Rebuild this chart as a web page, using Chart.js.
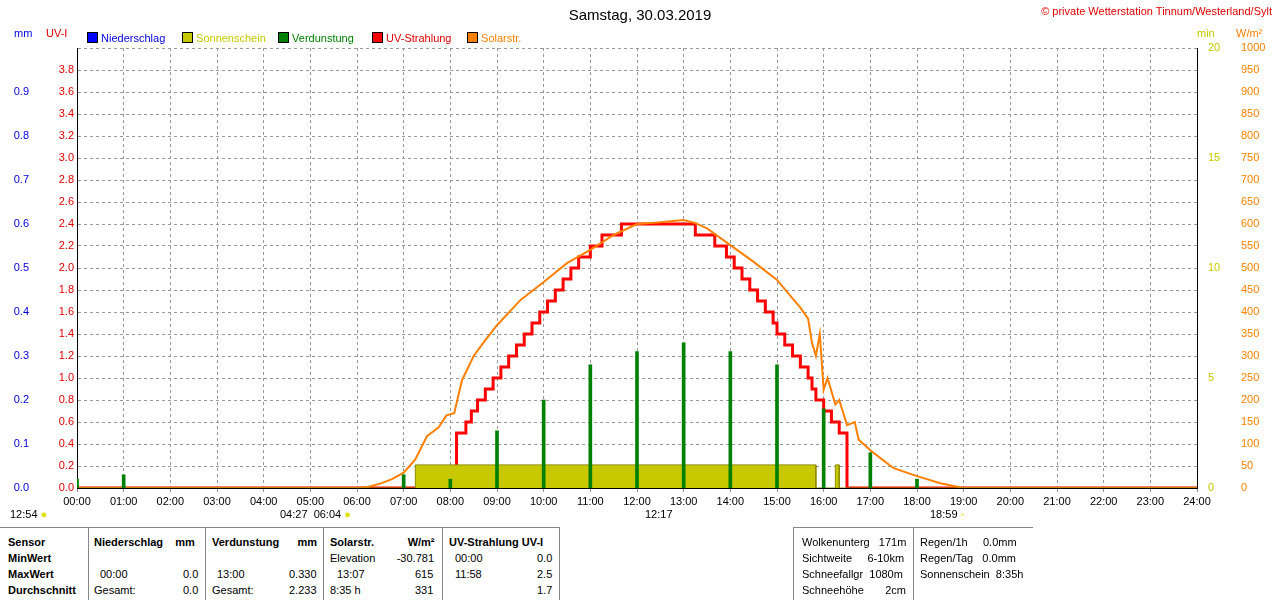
<!DOCTYPE html>
<html><head><meta charset="utf-8">
<script src="https://cdn.jsdelivr.net/npm/chart.js@4"></script>
<style>
body{margin:0;background:#fff;font-family:"Liberation Sans",Arial,sans-serif;font-size:11px;width:1280px;height:600px;position:relative;overflow:hidden}
#c{position:absolute;left:0;top:0}
.t{position:absolute;white-space:nowrap}
.tb{position:absolute;white-space:nowrap;font-size:11px}
.b{font-weight:bold}
.vl{position:absolute;width:1px;background:#888;top:527px;height:73px}
</style></head><body>
<canvas id="c" width="1280" height="515"></canvas>
<div class="t" style="left:0;width:1280px;text-align:center;top:6px;font-size:15px">Samstag, 30.03.2019</div>
<div class="t" style="right:8px;top:5px;color:#e00000">© private Wetterstation Tinnum/Westerland/Sylt</div>
<div class="t" style="left:14px;top:27px;color:#0000e0">mm</div>
<div class="t" style="left:46px;top:27px;color:#e00000">UV-I</div>
<div class="t" style="left:1197px;top:27px;color:#c8c800">min</div>
<div class="t" style="left:1236px;top:27px;color:#ff8000">W/m²</div>
<div class="t" style="left:87px;top:32px"><span style="display:inline-block;width:9px;height:9px;background:#0000ff;border:1px solid #000;vertical-align:-1px"></span> <span style="color:#0000e0">Niederschlag</span></div>
<div class="t" style="left:182px;top:32px"><span style="display:inline-block;width:9px;height:9px;background:#c8c800;border:1px solid #000;vertical-align:-1px"></span> <span style="color:#c8c800">Sonnenschein</span></div>
<div class="t" style="left:278px;top:32px"><span style="display:inline-block;width:9px;height:9px;background:#008000;border:1px solid #000;vertical-align:-1px"></span> <span style="color:#008000">Verdunstung</span></div>
<div class="t" style="left:372px;top:32px"><span style="display:inline-block;width:9px;height:9px;background:#ff0000;border:1px solid #000;vertical-align:-1px"></span> <span style="color:#e00000">UV-Strahlung</span></div>
<div class="t" style="left:467px;top:32px"><span style="display:inline-block;width:9px;height:9px;background:#ff8000;border:1px solid #000;vertical-align:-1px"></span> <span style="color:#ff8000">Solarstr.</span></div>
<div class="t" style="left:10px;top:508px">12:54 <span style="color:#e0e000">●</span></div>
<div class="t" style="left:280px;top:508px">04:27 &nbsp;06:04 <span style="color:#e0e000">●</span></div>
<div class="t" style="left:645px;top:508px">12:17</div>
<div class="t" style="left:930px;top:508px">18:59 <span style="color:#e0e000">◦</span></div>
<div class="vl" style="left:88px"></div><div class="vl" style="left:205px"></div><div class="vl" style="left:323px"></div><div class="vl" style="left:442px"></div><div class="vl" style="left:559px"></div><div class="vl" style="left:913px"></div>
<div style="position:absolute;left:0;top:527px;width:560px;height:1px;background:#888"></div>
<div class="tb b" style="left:8px;top:536px">Sensor</div>
<div class="tb b" style="left:8px;top:552px">MinWert</div>
<div class="tb b" style="left:8px;top:568px">MaxWert</div>
<div class="tb b" style="left:8px;top:584px">Durchschnitt</div>
<div class="tb b" style="left:94px;top:536px">Niederschlag &nbsp;&nbsp;&nbsp;mm</div>
<div class="tb" style="left:100px;top:568px">00:00</div><div class="tb" style="left:183px;top:568px">0.0</div>
<div class="tb" style="left:94px;top:584px">Gesamt:</div><div class="tb" style="left:183px;top:584px">0.0</div>
<div class="tb b" style="left:212px;top:536px">Verdunstung &nbsp;&nbsp;&nbsp;&nbsp;&nbsp;mm</div>
<div class="tb" style="left:217px;top:568px">13:00</div><div class="tb" style="left:289px;top:568px">0.330</div>
<div class="tb" style="left:212px;top:584px">Gesamt:</div><div class="tb" style="left:289px;top:584px">2.233</div>
<div class="tb b" style="left:330px;top:536px">Solarstr. &nbsp;&nbsp;&nbsp;&nbsp;&nbsp;&nbsp;&nbsp;&nbsp;&nbsp;&nbsp;W/m²</div>
<div class="tb" style="left:330px;top:552px;width:45px;text-align:right">Elevation</div><div class="tb" style="left:390px;top:552px;width:44px;text-align:right">-30.781</div>
<div class="tb" style="left:337px;top:568px">13:07</div><div class="tb" style="left:415px;top:568px">615</div>
<div class="tb" style="left:330px;top:584px">8:35 h</div><div class="tb" style="left:415px;top:584px">331</div>
<div class="tb b" style="left:449px;top:536px">UV-Strahlung UV-I</div>
<div class="tb" style="left:455px;top:552px">00:00</div><div class="tb" style="left:537px;top:552px">0.0</div>
<div class="tb" style="left:455px;top:568px">11:58</div><div class="tb" style="left:537px;top:568px">2.5</div>
<div class="tb" style="left:537px;top:584px">1.7</div>
<div style="position:absolute;left:793px;top:527px;width:240px;height:1px;background:#888"></div>
<div class="vl" style="left:793px"></div>
<div class="tb" style="left:802px;top:536px">Wolkenunterg &nbsp;&nbsp;171m</div>
<div class="tb" style="left:802px;top:552px">Sichtweite &nbsp;&nbsp;&nbsp;&nbsp;6-10km</div>
<div class="tb" style="left:802px;top:568px">Schneefallgr &nbsp;1080m</div>
<div class="tb" style="left:802px;top:584px">Schneehöhe &nbsp;&nbsp;&nbsp;&nbsp;&nbsp;&nbsp;2cm</div>
<div class="tb" style="left:920px;top:536px">Regen/1h &nbsp;&nbsp;&nbsp;&nbsp;0.0mm</div>
<div class="tb" style="left:920px;top:552px">Regen/Tag &nbsp;&nbsp;0.0mm</div>
<div class="tb" style="left:920px;top:568px">Sonnenschein &nbsp;8:35h</div>
<script>
const solarTimes=["00:00","06:00","06:15","06:30","06:45","07:00","07:15","07:30","07:45","07:55","08:05","08:15","08:30","08:45","09:00","09:30","10:00","10:30","11:00","11:30","12:00","12:30","13:00","13:15","13:30","14:00","14:30","15:00","15:30","15:40","15:45","15:50","15:55","16:00","16:05","16:15","16:20","16:30","16:40","16:45","17:00","17:15","17:30","18:00","18:30","19:00","24:00"];
const solarValues=[0,0,3,10,20,35,65,118,138,165,170,245,300,336,370,427,468,511,541,575,600,604,609,602,590,552,514,473,410,385,330,300,350,223,250,190,200,143,150,110,86,65,45,27,11,0,0];
const uvTimes=["00:00","08:08","08:20","08:27","08:35","08:45","08:55","09:05","09:15","09:25","09:35","09:45","09:55","10:05","10:15","10:25","10:35","10:45","11:00","11:15","11:40","13:15","13:40","13:55","14:05","14:15","14:25","14:35","14:45","14:55","15:00","15:10","15:20","15:30","15:40","15:45","15:50","16:00","16:10","16:20","16:30","24:00"];
const uvValues=[0,0.5,0.6,0.7,0.8,0.9,1.0,1.1,1.2,1.3,1.4,1.5,1.6,1.7,1.8,1.9,2.0,2.1,2.2,2.3,2.4,2.3,2.2,2.1,2.0,1.9,1.8,1.7,1.6,1.5,1.4,1.3,1.2,1.1,1.0,0.9,0.8,0.7,0.6,0.5,0.0,0.0];
const evapTimes=["00:00","01:00","07:00","08:00","09:00","10:00","11:00","12:00","13:00","14:00","15:00","16:00","17:00","18:00"];
const evapValues=[0.02,0.03,0.03,0.02,0.13,0.2,0.28,0.31,0.33,0.31,0.28,0.18,0.08,0.02];
const sunStart=["07:15","16:15"];
const sunEnd=["15:50","16:20"];
const sunMinutes=[1.05,1.05];
const hourLabels=["00:00","01:00","02:00","03:00","04:00","05:00","06:00","07:00","08:00","09:00","10:00","11:00","12:00","13:00","14:00","15:00","16:00","17:00","18:00","19:00","20:00","21:00","22:00","23:00","24:00"];
const m=s=>{const[a,b]=s.split(":");return +a*60+ +b;};
const sunPts=[{x:0,y:0}];
sunStart.forEach((s,i)=>{sunPts.push({x:m(s),y:0},{x:m(s),y:sunMinutes[i]},{x:m(sunEnd[i]),y:sunMinutes[i]},{x:m(sunEnd[i]),y:0});});
sunPts.push({x:1440,y:0});
const fit=w=>s=>{s.width=w;};
const tf={family:"Liberation Sans",size:11};
new Chart(document.getElementById('c'),{
 data:{datasets:[
  {type:'bar',label:'Verdunstung',yAxisID:'mm',data:evapTimes.map((t,i)=>({x:m(t),y:evapValues[i]})),backgroundColor:'#008000',barThickness:3},
  {type:'line',label:'Sonnenschein',yAxisID:'min',data:sunPts,borderColor:'#8c8c00',backgroundColor:'#c8c800',fill:'origin',borderWidth:1,pointRadius:0},
  {type:'line',label:'Solarstr.',yAxisID:'w',data:solarTimes.map((t,i)=>({x:m(t),y:solarValues[i]})),borderColor:'#ff8000',borderWidth:2,pointRadius:0,tension:0},
  {type:'line',label:'UV',yAxisID:'uv',data:uvTimes.map((t,i)=>({x:m(t),y:uvValues[i]})),borderColor:'#ff0000',borderWidth:3,pointRadius:0,stepped:true}
 ]},
 options:{responsive:false,animation:false,layout:{padding:{top:48,right:0,left:0,bottom:0}},
  plugins:{legend:{display:false},tooltip:{enabled:false}},
  scales:{
   x:{type:'linear',offset:false,min:0,max:1440,afterFit:s=>{s.height=27;},ticks:{stepSize:60,color:'#000',font:tf,maxRotation:0,callback:v=>hourLabels[v/60]},grid:{color:'#999',offset:false,tickLength:4},border:{dash:[3,3],color:'#000'}},
   mm:{position:'left',weight:2,min:0,max:1,afterFit:fit(40),ticks:{stepSize:0.1,color:'#0000e0',font:tf,callback:v=>v==0?'0.0':(v>=1?'':v.toFixed(1))},grid:{display:false},border:{display:false}},
   uv:{position:'left',weight:1,min:0,max:4,afterFit:fit(37),ticks:{stepSize:0.2,color:'#e00000',font:tf,callback:v=>v>=4?'':v.toFixed(1)},grid:{color:'#999',tickLength:0},border:{color:'#000',dash:[3,3]}},
   min:{position:'right',weight:1,min:0,max:20,afterFit:fit(33),ticks:{stepSize:5,color:'#c8c800',font:tf},grid:{display:false},border:{color:'#000'}},
   w:{position:'right',weight:2,min:0,max:1000,afterFit:fit(50),ticks:{stepSize:50,color:'#ff8000',font:tf,callback:v=>String(v)},grid:{display:false},border:{display:false}}
  }}
});
</script>
</body></html>
